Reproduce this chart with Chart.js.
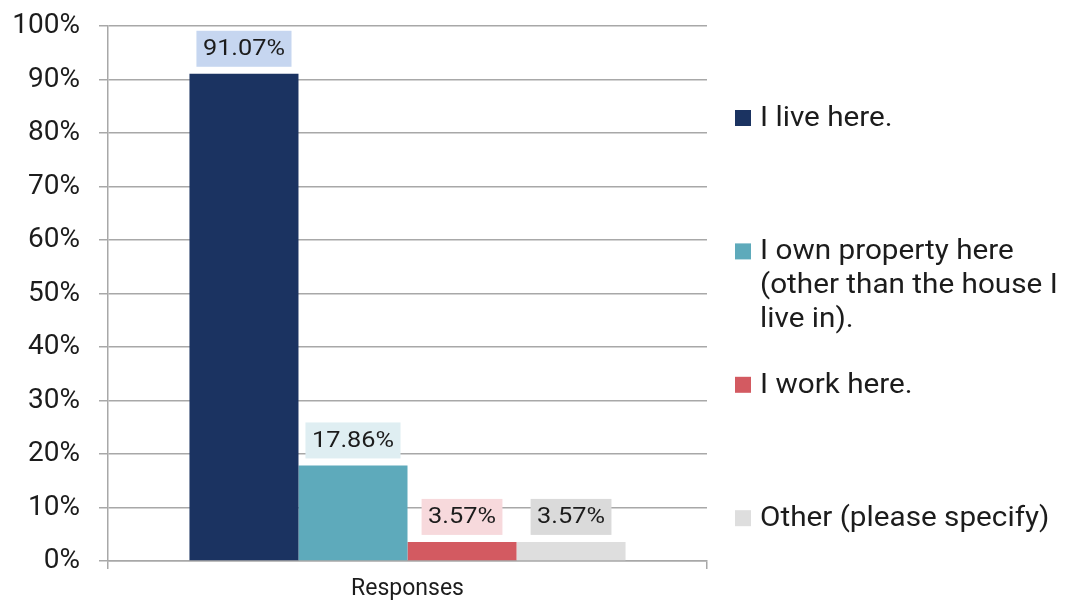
<!DOCTYPE html>
<html>
<head>
<meta charset="utf-8">
<script src="https://cdn.jsdelivr.net/npm/chart.js@4/dist/chart.umd.min.js"></script>
<style>
  html, body { margin: 0; padding: 0; background: #ffffff; }
  #wrap { width: 1066px; height: 606px; position: relative; }
</style>
</head>
<body>
<div id="wrap"><canvas id="c" width="1066" height="606"></canvas></div>
<script>
const categories = ["Responses"];
const seriesNames = ["I live here.", "I own property here (other than the house I live in).", "I work here.", "Other (please specify)"];
const legendLines = [["I live here."], ["I own property here", "(other than the house I", "live in)."], ["I work here."], ["Other (please specify)"]];
const liveHere = [91.07];
const ownProperty = [17.86];
const workHere = [3.57];
const otherSpecify = [3.57];
const yTicks = [0, 10, 20, 30, 40, 50, 60, 70, 80, 90, 100];

const barColors = ["#1b3361", "#5eaabb", "#d35a61", "#dedede"];
const labelBoxColors = ["#c6d6f0", "#dfeef2", "#f7d9dc", "#dadada"];
const seriesValues = [liveHere, ownProperty, workHere, otherSpecify];

const gridColor = "#a8a8a8";
const textColor = "#1c1c1c";
const FONT = "Roboto";

function stretchedText(ctx, txt, x, y, sx, align) {
  const w = ctx.measureText(txt).width * sx;
  let left = x;
  if (align === "center") left = x - w / 2;
  ctx.save();
  ctx.translate(left, y);
  ctx.scale(sx, 1);
  ctx.textAlign = "left";
  ctx.fillText(txt, 0, 0);
  ctx.restore();
  return w;
}

const dataLabelPlugin = {
  id: "dataLabelBoxes",
  afterDatasetsDraw(chart) {
    const ctx = chart.ctx;
    const sx = 1.15;
    ctx.save();
    ctx.font = "22px " + FONT;
    ctx.textBaseline = "middle";
    chart.data.datasets.forEach((ds, i) => {
      const meta = chart.getDatasetMeta(i);
      meta.data.forEach((bar, j) => {
        const txt = ds.data[j].toFixed(2) + "%";
        const tw = ctx.measureText(txt).width * sx;
        const w = tw + 13;
        const h = 36;
        const bx = bar.x - w / 2;
        const by = bar.y - 7 - h;
        ctx.fillStyle = labelBoxColors[i];
        ctx.fillRect(bx, by, w, h);
        ctx.fillStyle = textColor;
        stretchedText(ctx, txt, bar.x, by + h / 2 + 1, sx, "center");
      });
    });
    ctx.restore();
  }
};

const sideLegendPlugin = {
  id: "sideLegend",
  afterDraw(chart) {
    const ctx = chart.ctx;
    const sx = 1.1;
    ctx.save();
    ctx.font = "27px " + FONT;
    ctx.textBaseline = "middle";
    const boxX = 735, box = 16, textX = 760, firstY = 118, step = 133.4, lineH = 34;
    chart.data.datasets.forEach((ds, i) => {
      const y = firstY + i * step;
      ctx.fillStyle = ds.backgroundColor;
      ctx.fillRect(boxX, y - box / 2, box, box);
      ctx.fillStyle = textColor;
      legendLines[i].forEach((line, k) => {
        stretchedText(ctx, line, textX, y + k * lineH + 1, sx, "left");
      });
    });
    ctx.restore();
  }
};

new Chart(document.getElementById("c"), {
  type: "bar",
  data: {
    labels: categories,
    datasets: seriesNames.map((name, i) => ({
      label: name,
      data: seriesValues[i],
      backgroundColor: barColors[i],
      borderWidth: 0,
      categoryPercentage: 0.728,
      barPercentage: 1.0
    }))
  },
  options: {
    responsive: false,
    animation: false,
    devicePixelRatio: 1,
    layout: { padding: { top: 26, right: 359, bottom: 0, left: 0 } },
    plugins: {
      legend: { display: false },
      tooltip: { enabled: false },
      title: { display: false }
    },
    scales: {
      x: {
        grid: {
          offset: true,
          drawOnChartArea: false,
          drawTicks: true,
          tickLength: 8,
          color: gridColor,
          lineWidth: 1.5
        },
        border: { display: true, color: gridColor, width: 1.5 },
        ticks: {
          color: textColor,
          font: { family: FONT, size: 23 },
          padding: 6
        },
        afterFit(scale) { scale.height = 45; scale.paddingLeft = 0; scale.paddingRight = 0; }
      },
      y: {
        min: 0,
        max: 100,
        afterBuildTicks(scale) { scale.ticks = yTicks.map(v => ({ value: v })); },
        ticks: {
          stepSize: 10,
          color: textColor,
          font: { family: FONT, size: 28 },
          padding: 19,
          callback: (v) => v + "%"
        },
        grid: {
          color: gridColor,
          lineWidth: 1.5,
          drawTicks: true,
          tickLength: 9
        },
        border: { display: true, color: gridColor, width: 1.5 },
        afterFit(scale) { scale.width = 108; scale.paddingTop = 0; scale.paddingBottom = 0; }
      }
    }
  },
  plugins: [dataLabelPlugin, sideLegendPlugin]
});
</script>
</body>
</html>
